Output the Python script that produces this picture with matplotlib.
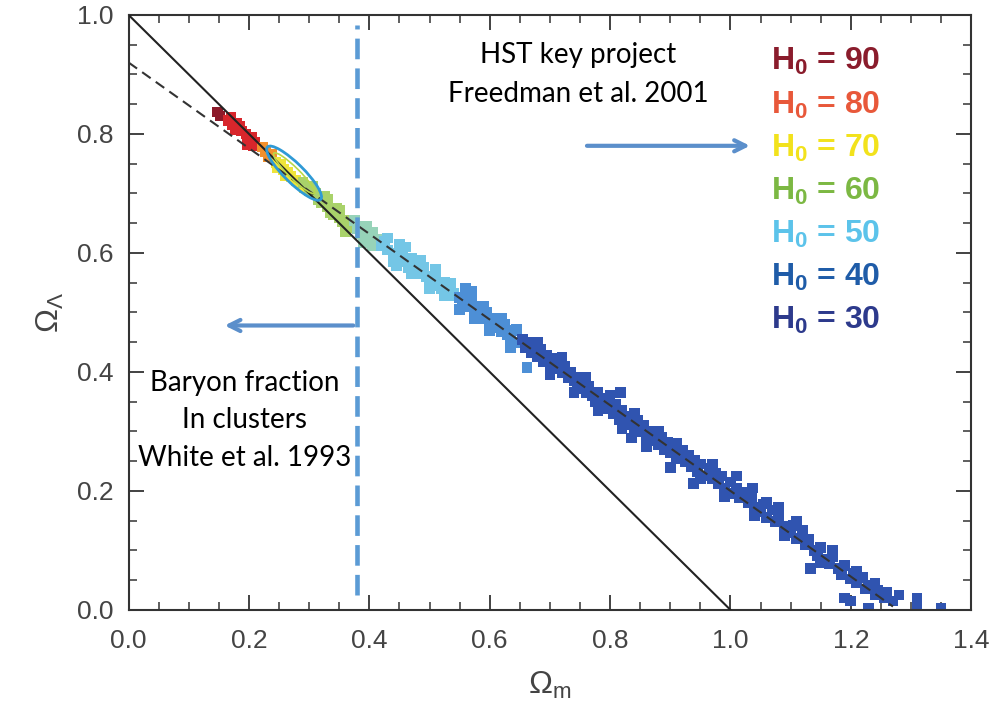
import matplotlib.pyplot as plt
from matplotlib.patches import Ellipse
from matplotlib.ticker import MultipleLocator

plt.rcParams['mathtext.fontset'] = 'custom'
plt.rcParams['mathtext.rm'] = 'Liberation Sans'
plt.rcParams['mathtext.it'] = 'Liberation Sans'
plt.rcParams['mathtext.bf'] = 'Liberation Sans:bold'

# H0 groups: label and text colour
h0_labels = ['90', '80', '70', '60', '50', '40', '30']
h0_text_colors = ['#8a1c2c', '#e8583a', '#f2e21c', '#7cb843', '#5cc3ea', '#1f5ca8', '#2d3a8c']

# scatter points, grouped by colour
pts_darkred_x = [0.148, 0.152]
pts_darkred_y = [0.837, 0.830]
pts_red_x = [0.165, 0.172, 0.180, 0.178, 0.188, 0.195, 0.200, 0.205, 0.210, 0.198,
             0.170, 0.185, 0.207]
pts_red_y = [0.822, 0.815, 0.818, 0.808, 0.805, 0.800, 0.792, 0.795, 0.785, 0.782,
             0.828, 0.812, 0.780]
pts_orange_x = [0.222, 0.228, 0.232, 0.238]
pts_orange_y = [0.778, 0.770, 0.762, 0.765]
pts_yellow_x = [0.245, 0.252, 0.258, 0.265, 0.270, 0.278, 0.285, 0.292, 0.260, 0.248]
pts_yellow_y = [0.752, 0.748, 0.740, 0.735, 0.728, 0.722, 0.716, 0.710, 0.730, 0.744]
pts_green_x = [0.29, 0.30, 0.31, 0.315, 0.32, 0.33, 0.335, 0.34, 0.345, 0.35,
               0.355, 0.36, 0.365, 0.37, 0.305, 0.325, 0.33, 0.35, 0.36]
pts_green_y = [0.718, 0.705, 0.700, 0.690, 0.685, 0.678, 0.668, 0.664, 0.675, 0.660,
               0.652, 0.648, 0.655, 0.642, 0.712, 0.695, 0.690, 0.672, 0.635]
pts_teal_x = [0.38, 0.385, 0.39, 0.395, 0.40, 0.405, 0.41, 0.415, 0.375, 0.395, 0.405, 0.39]
pts_teal_y = [0.640, 0.632, 0.645, 0.628, 0.625, 0.635, 0.618, 0.622, 0.655, 0.645, 0.612, 0.618]
pts_cyan_x = [0.42, 0.425, 0.43, 0.44, 0.445, 0.45, 0.455, 0.46, 0.465, 0.47, 0.475, 0.48,
              0.485, 0.49, 0.495, 0.50, 0.505, 0.51, 0.515, 0.52, 0.525, 0.53, 0.535, 0.54,
              0.43, 0.445, 0.46, 0.47, 0.485, 0.50, 0.51, 0.525, 0.535, 0.45, 0.44]
pts_cyan_y = [0.612, 0.620, 0.605, 0.600, 0.590, 0.605, 0.592, 0.585, 0.575, 0.590, 0.578, 0.570,
              0.565, 0.575, 0.560, 0.555, 0.548, 0.560, 0.545, 0.540, 0.550, 0.535, 0.528, 0.532,
              0.625, 0.578, 0.610, 0.565, 0.588, 0.540, 0.572, 0.528, 0.548, 0.615, 0.585]
pts_midblue_x = [0.55, 0.555, 0.56, 0.565, 0.57, 0.575, 0.58, 0.585, 0.59, 0.595, 0.60,
                 0.605, 0.61, 0.615, 0.62, 0.625, 0.63, 0.635, 0.64, 0.645, 0.662,
                 0.56, 0.575, 0.59, 0.60, 0.62, 0.635, 0.645, 0.57, 0.55]
pts_midblue_y = [0.525, 0.515, 0.530, 0.510, 0.520, 0.505, 0.498, 0.510, 0.490, 0.500, 0.485,
                 0.478, 0.490, 0.475, 0.468, 0.480, 0.462, 0.455, 0.470, 0.450, 0.408,
                 0.540, 0.490, 0.510, 0.470, 0.490, 0.440, 0.472, 0.535, 0.505]
pts_blue_x = [0.655, 0.66, 0.665, 0.67, 0.675, 0.68, 0.685, 0.69, 0.695, 0.70, 0.705, 0.71,
              0.715, 0.72, 0.725, 0.73, 0.735, 0.74, 0.745, 0.75, 0.755, 0.76, 0.765, 0.77,
              0.775, 0.78, 0.785, 0.79, 0.795, 0.80, 0.805, 0.81, 0.815, 0.82, 0.825, 0.83,
              0.835, 0.84, 0.845, 0.85, 0.855, 0.86, 0.87, 0.875, 0.88, 0.885, 0.89, 0.895,
              0.90, 0.905, 0.91, 0.92, 0.925, 0.93, 0.935, 0.94, 0.945, 0.95, 0.96, 0.965,
              0.97, 0.975, 0.98, 0.985, 0.99, 1.0, 1.005, 1.01, 1.015, 1.02, 1.03, 1.035,
              1.04, 1.05, 1.055, 1.06, 1.07, 1.075, 1.08, 1.09, 1.10, 1.105, 1.11, 1.12,
              1.125, 1.13, 1.14, 1.145, 1.15, 1.16, 1.165, 1.17, 1.18, 1.185, 1.19, 1.20,
              1.205, 1.21, 1.22, 1.225, 1.23, 1.24, 1.245, 1.255, 1.27, 1.31, 1.31, 1.35,
              1.23, 1.20, 0.938, 1.037, 1.08, 1.12, 1.133, 1.19, 0.817, 0.836, 0.90,
              0.68, 0.70, 0.72, 0.74, 0.76, 0.78, 0.80, 0.82, 0.84, 0.86, 0.88, 0.91,
              0.95, 0.97, 0.99, 1.01, 1.04, 1.06, 1.09, 1.11, 1.15, 1.17, 1.21, 1.24,
              1.26, 1.28]
pts_blue_y = [0.455, 0.440, 0.450, 0.432, 0.445, 0.425, 0.438, 0.418, 0.428, 0.410, 0.422, 0.405,
              0.415, 0.398, 0.410, 0.390, 0.400, 0.385, 0.372, 0.390, 0.378, 0.365, 0.375, 0.360,
              0.350, 0.365, 0.348, 0.338, 0.355, 0.340, 0.330, 0.345, 0.320, 0.335, 0.318, 0.312,
              0.325, 0.305, 0.318, 0.300, 0.310, 0.292, 0.300, 0.285, 0.278, 0.290, 0.270, 0.282,
              0.265, 0.275, 0.255, 0.268, 0.250, 0.260, 0.240, 0.252, 0.232, 0.245, 0.225, 0.238,
              0.220, 0.230, 0.212, 0.225, 0.205, 0.215, 0.195, 0.205, 0.188, 0.198, 0.180, 0.190,
              0.172, 0.165, 0.178, 0.155, 0.168, 0.148, 0.158, 0.140, 0.130, 0.142, 0.120, 0.128,
              0.110, 0.118, 0.100, 0.092, 0.105, 0.085, 0.078, 0.090, 0.070, 0.060, 0.075, 0.052,
              0.062, 0.045, 0.055, 0.035, 0.042, 0.025, 0.032, 0.020, 0.015, 0.020, 0.006, 0.002,
              0.002, 0.015, 0.213, 0.205, 0.173, 0.134, 0.070, 0.020, 0.365, 0.289, 0.239,
              0.450, 0.395, 0.425, 0.365, 0.390, 0.335, 0.360, 0.305, 0.330, 0.275, 0.300, 0.280,
              0.220, 0.245, 0.190, 0.225, 0.158, 0.180, 0.125, 0.148, 0.080, 0.100, 0.065, 0.045,
              0.030, 0.025]

groups = [
    (pts_darkred_x, pts_darkred_y, '#8c1a2a'),
    (pts_red_x, pts_red_y, '#d8262c'),
    (pts_orange_x, pts_orange_y, '#f2902c'),
    (pts_yellow_x, pts_yellow_y, '#eee43a'),
    (pts_green_x, pts_green_y, '#a9d26a'),
    (pts_teal_x, pts_teal_y, '#97d3b9'),
    (pts_cyan_x, pts_cyan_y, '#74c6e6'),
    (pts_midblue_x, pts_midblue_y, '#4d8fd6'),
    (pts_blue_x, pts_blue_y, '#3054b0'),
]

# fit line and flat-universe line
fit_x = [0.0, 1.27]
fit_intercept = 0.92
fit_slope = -0.72
flat_x = [0.0, 1.0]
flat_y = [1.0, 0.0]

# HST ellipse
ell_center = (0.275, 0.734)
baryon_limit = 0.38

fig = plt.figure(figsize=(9.89, 7.10), dpi=100)
ax = fig.add_axes([0.130, 0.141, 0.852, 0.838])

for xs, ys, c in groups:
    ax.scatter(xs, ys, s=60, marker='s', color=c, edgecolors='none', zorder=2)

ax.plot(flat_x, flat_y, color='#222222', lw=1.5, zorder=3)
ax.plot(fit_x, [fit_intercept + fit_slope * v for v in fit_x], color='#333333',
        lw=1.5, ls=(0, (5, 3)), zorder=3)

ax.add_patch(Ellipse(ell_center, 0.125, 0.032, angle=-45, fill=False,
                     edgecolor='#2f9ad6', lw=2, zorder=4))
ax.add_patch(Ellipse(ell_center, 0.095, 0.018, angle=-45, fill=False,
                     edgecolor='#b8d84a', lw=1.2, zorder=4))

ax.plot([baryon_limit, baryon_limit], [0.025, 0.983], color='#5b9bd5', lw=3.3,
        ls=(0, (4.5, 2)), zorder=5)

ax.set_xlim(0, 1.4)
ax.set_ylim(0, 1.0)
ax.xaxis.set_major_locator(MultipleLocator(0.2))
ax.xaxis.set_minor_locator(MultipleLocator(0.05))
ax.yaxis.set_major_locator(MultipleLocator(0.2))
ax.yaxis.set_minor_locator(MultipleLocator(0.05))
ax.tick_params(which='both', direction='in', top=True, right=True, colors='#333333',
               labelcolor='#444444', labelsize=19, pad=11)
ax.tick_params(axis='x', which='major', pad=14)
ax.tick_params(which='major', length=11, width=1.3)
ax.tick_params(which='minor', length=6, width=1.1)
ax.set_xticklabels([f'{v:.1f}' for v in ax.get_xticks()], family='Liberation Sans')
ax.set_yticklabels([f'{v:.1f}' for v in ax.get_yticks()], family='Liberation Sans')
for sp in ax.spines.values():
    sp.set_color('#333333')
    sp.set_linewidth(1.5)

ax.set_xlabel(r'$\Omega_{\rm m}$', fontsize=23, color='#444444', labelpad=12)
ax.set_ylabel(r'$\Omega_\Lambda$', fontsize=23, color='#444444', labelpad=8)

# legend of H0 values
for i, (lab, c) in enumerate(zip(h0_labels, h0_text_colors)):
    ax.text(1.067, 0.921 - i * 0.0725, r'$\mathbf{H_0}$ = ' + lab, color=c, fontsize=23,
            fontweight='bold', family='Liberation Sans', ha='left', va='center')

ax.text(0.747, 0.90, 'HST key project\nFreedman et al. 2001', fontsize=20, family='Lato',
        ha='center', va='center', linespacing=1.6, color='black')
ax.text(0.193, 0.319, 'Baryon fraction\nIn clusters\nWhite et al. 1993', fontsize=20,
        family='Lato', ha='center', va='center', linespacing=1.55, color='black', zorder=6)

ax.annotate('', xy=(1.037, 0.78), xytext=(0.757, 0.78),
            arrowprops=dict(arrowstyle='->,head_length=0.8,head_width=0.4', color='#5b8fcb', lw=3))
ax.annotate('', xy=(0.155, 0.478), xytext=(0.378, 0.478),
            arrowprops=dict(arrowstyle='->,head_length=0.8,head_width=0.4', color='#5b8fcb', lw=3))

fig.savefig('out.png', dpi=100)
